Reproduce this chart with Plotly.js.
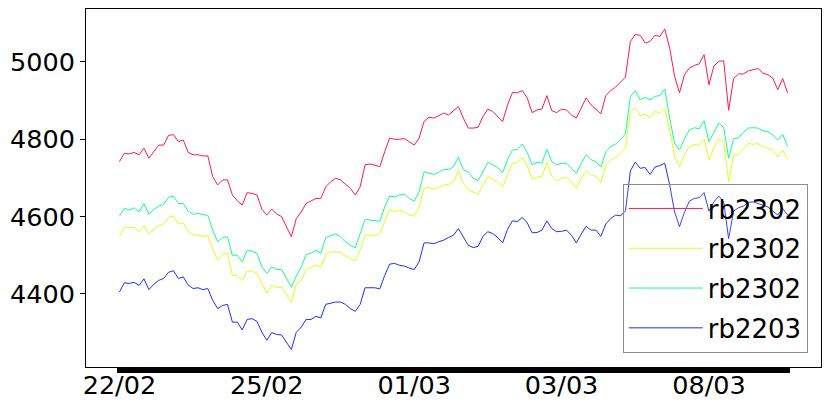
<!DOCTYPE html>
<html>
<head>
<meta charset="utf-8">
<script src="https://cdn.plot.ly/plotly-3.0.1.min.js"></script>
<style>
  html, body { margin: 0; padding: 0; background: #fff; }
  #chart { width: 831px; height: 412px; }
</style>
</head>
<body>
<div id="chart"></div>
<script>
// Tick labels (dates) and the sample index at which each one sits
const tickLabels = ['22/02', '25/02', '01/03', '03/03', '08/03'];
const tickIndex = [0, 30, 60, 90, 120];

// Series names as shown in the legend
const seriesNames = ['rb2302', 'rb2302', 'rb2302', 'rb2203'];

// Prices (one value per sample)
const redSeries = [
  4742, 4764, 4762, 4766, 4760, 4777, 4751, 4768, 4785, 4785,
  4810, 4812, 4794, 4798, 4766, 4760, 4760, 4757, 4757, 4703,
  4682, 4695, 4695, 4656, 4641, 4630, 4662, 4660, 4656, 4619,
  4604, 4619, 4607, 4600, 4575, 4548, 4595, 4612, 4634, 4641,
  4647, 4647, 4677, 4690, 4699, 4695, 4684, 4673, 4656, 4677,
  4734, 4736, 4733, 4729, 4768, 4803, 4800, 4800, 4802, 4794,
  4785, 4803, 4846, 4857, 4855, 4861, 4868, 4863, 4874, 4885,
  4855, 4829, 4829, 4831, 4859, 4878, 4872, 4859, 4846, 4889,
  4921, 4920, 4926, 4907, 4869, 4876, 4878, 4913, 4874, 4869,
  4878, 4876, 4863, 4855, 4883, 4907, 4889, 4878, 4866, 4913,
  4926, 4935, 4947, 4961, 5053, 5071, 5069, 5049, 5053, 5069,
  5066, 5085, 5036, 4963, 4920, 4967, 4984, 4991, 4995, 5019,
  4941, 4989, 5002, 5003, 4875, 4957, 4969, 4969, 4977, 4980,
  4983, 4971, 4967, 4958, 4928, 4957, 4920
];
const yellowSeries = [
  4549, 4572, 4572, 4572, 4561, 4578, 4554, 4568, 4577, 4581,
  4598, 4602, 4581, 4584, 4561, 4554, 4552, 4549, 4551, 4515,
  4487, 4503, 4505, 4448, 4447, 4435, 4459, 4459, 4454, 4427,
  4402, 4422, 4416, 4418, 4399, 4379, 4425, 4435, 4464, 4470,
  4474, 4468, 4502, 4509, 4508, 4508, 4498, 4492, 4485, 4513,
  4552, 4552, 4551, 4556, 4589, 4619, 4612, 4617, 4612, 4604,
  4601, 4624, 4673, 4676, 4671, 4675, 4682, 4683, 4690, 4719,
  4686, 4669, 4664, 4658, 4682, 4703, 4697, 4689, 4677, 4710,
  4738, 4740, 4754, 4731, 4697, 4702, 4703, 4740, 4705, 4692,
  4699, 4703, 4690, 4673, 4699, 4719, 4708, 4703, 4688, 4734,
  4747, 4753, 4764, 4778, 4870, 4882, 4861, 4865, 4856, 4872,
  4869, 4881, 4824, 4755, 4729, 4760, 4781, 4787, 4784, 4801,
  4747, 4777, 4801, 4792, 4690, 4758, 4761, 4775, 4789, 4787,
  4789, 4781, 4777, 4772, 4755, 4772, 4747
];
const greenSeries = [
  4601, 4622, 4617, 4623, 4612, 4634, 4606, 4619, 4627, 4632,
  4650, 4653, 4634, 4634, 4614, 4606, 4608, 4605, 4603, 4565,
  4535, 4546, 4548, 4500, 4500, 4483, 4513, 4511, 4505, 4470,
  4453, 4470, 4463, 4463, 4442, 4418, 4446, 4470, 4502, 4505,
  4513, 4505, 4546, 4550, 4555, 4548, 4535, 4526, 4519, 4556,
  4593, 4591, 4589, 4588, 4625, 4653, 4651, 4656, 4658, 4647,
  4640, 4664, 4716, 4712, 4709, 4715, 4722, 4722, 4729, 4754,
  4721, 4716, 4699, 4693, 4716, 4740, 4734, 4727, 4714, 4747,
  4772, 4774, 4788, 4766, 4734, 4740, 4738, 4774, 4742, 4734,
  4738, 4738, 4725, 4712, 4738, 4760, 4747, 4742, 4728, 4768,
  4781, 4788, 4800, 4814, 4911, 4926, 4902, 4908, 4902, 4911,
  4913, 4930, 4855, 4790, 4772, 4801, 4824, 4830, 4827, 4848,
  4794, 4820, 4842, 4830, 4751, 4801, 4804, 4818, 4829, 4830,
  4829, 4822, 4820, 4811, 4798, 4813, 4781
];
const blueSeries = [
  4405, 4429, 4427, 4430, 4422, 4439, 4411, 4425, 4435, 4440,
  4456, 4460, 4440, 4444, 4423, 4414, 4416, 4411, 4414, 4383,
  4362, 4370, 4373, 4327, 4327, 4307, 4334, 4336, 4329, 4301,
  4280, 4300, 4295, 4294, 4275, 4256, 4301, 4314, 4334, 4334,
  4342, 4338, 4373, 4376, 4379, 4379, 4373, 4362, 4355, 4373,
  4416, 4416, 4416, 4413, 4448, 4477, 4479, 4474, 4472, 4467,
  4463, 4483, 4532, 4532, 4530, 4535, 4539, 4546, 4552, 4569,
  4548, 4526, 4520, 4523, 4549, 4561, 4556, 4546, 4532, 4567,
  4589, 4587, 4598, 4584, 4558, 4559, 4565, 4589, 4569, 4561,
  4562, 4565, 4552, 4532, 4555, 4575, 4565, 4565, 4549, 4581,
  4595, 4604, 4602, 4615, 4718, 4741, 4725, 4727, 4709, 4728,
  4732, 4738, 4682, 4612, 4574, 4611, 4640, 4647, 4649, 4662,
  4614, 4638, 4653, 4638, 4543, 4614, 4623, 4627, 4637, 4638,
  4634, 4630, 4625, 4614, 4604, 4621, 4604
];

const seriesValues = [redSeries, yellowSeries, greenSeries, blueSeries];
const seriesColors = ['#ff1a4a', '#dcff1e', '#14ff8a', '#1f2eff'];

const n = redSeries.length;
const xIndex = Array.from({length: n}, (_, i) => i);
const xRange = [-6.8, n - 1 + 6.8];

const traces = seriesValues.map((vals, k) => ({
  type: 'scatter',
  mode: 'lines',
  x: xIndex,
  y: vals,
  name: seriesNames[k],
  legendgroup: 'g' + k,
  line: {color: seriesColors[k], width: 1},
  hoverinfo: 'skip'
}));
// empty helper trace so the label-carrying overlay axis is drawn
traces.push({type: 'scatter', mode: 'lines', x: [], y: [], xaxis: 'x2', yaxis: 'y', showlegend: false, hoverinfo: 'skip'});

const font = {family: 'DejaVu Sans, sans-serif', size: 25.5, color: '#000'};
const legendFont = {family: 'DejaVu Sans, sans-serif', size: 26, color: '#000'};

const layout = {
  width: 831,
  height: 412,
  margin: {l: 86, r: 10, t: 9, b: 45},
  paper_bgcolor: '#fff',
  plot_bgcolor: '#fff',
  font: font,
  showlegend: true,
  legend: {
    x: 0.982, xanchor: 'right',
    y: 0.039, yanchor: 'bottom',
    bgcolor: 'rgba(255,255,255,0.1)',
    bordercolor: '#8c8c8c',
    borderwidth: 1,
    font: legendFont,
    tracegroupgap: 3,
    itemwidth: 74
  },
  // main x axis: one tick per sample -> the dense black bar, no labels
  xaxis: {
    range: xRange,
    tickmode: 'array',
    tickvals: xIndex,
    ticktext: xIndex.map(() => ''),
    ticks: 'outside',
    ticklen: 5,
    tickwidth: 5,
    tickcolor: '#000',
    showgrid: false,
    zeroline: false,
    showline: true,
    linecolor: '#000',
    linewidth: 1,
    mirror: true,
    tickfont: font
  },
  // overlay x axis carrying only the date labels
  xaxis2: {
    overlaying: 'x',
    anchor: 'y',
    side: 'bottom',
    range: xRange,
    tickmode: 'array',
    tickvals: tickIndex,
    ticktext: tickLabels,
    ticks: '',
    showgrid: false,
    zeroline: false,
    showline: false,
    tickfont: font,
    tickangle: 0
  },
  yaxis: {
    range: [4211, 5137],
    tickvals: [4400, 4600, 4800, 5000],
    ticks: 'outside',
    ticklen: 5,
    tickwidth: 1,
    tickcolor: '#000',
    showgrid: false,
    zeroline: false,
    showline: true,
    linecolor: '#000',
    linewidth: 1,
    mirror: true,
    tickfont: font
  }
};

Plotly.newPlot('chart', traces, layout, {displayModeBar: false, staticPlot: true});
</script>
</body>
</html>
